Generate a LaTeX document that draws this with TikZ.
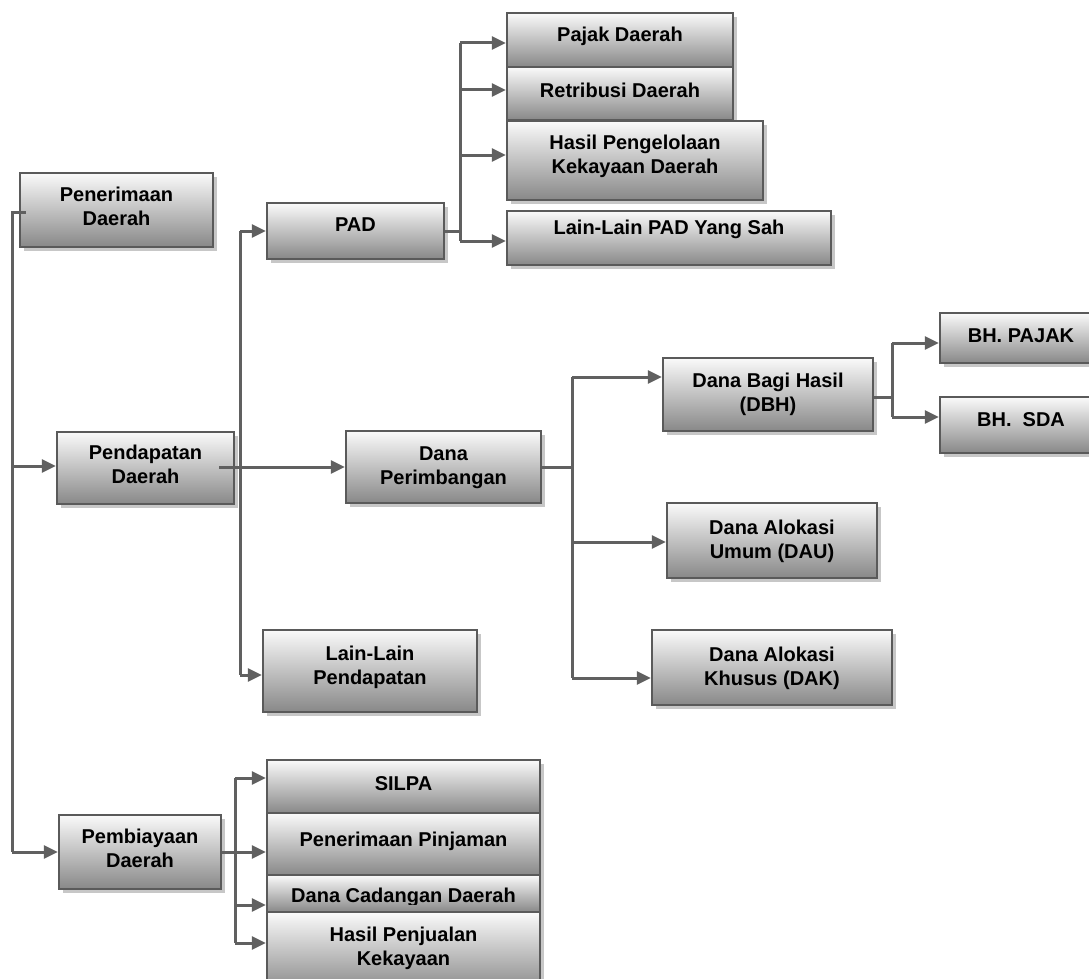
\documentclass[tikz,border=0pt]{standalone}
\usepackage{fontspec}
\setmainfont{Liberation Sans}
\usetikzlibrary{arrows.meta,shadows}
\definecolor{linegray}{HTML}{606060}
\definecolor{bordergray}{HTML}{5A5A5A}
\definecolor{topgray}{HTML}{FAFAFA}
\definecolor{botgray}{HTML}{888888}
\tikzset{
  box/.style={draw=bordergray, line width=2.4pt, top color=topgray, bottom color=botgray,
    inner sep=0pt, drop shadow={shadow xshift=4pt, shadow yshift=-4pt, fill=black!22, opacity=1}},
  txt/.style={font=\fontsize{20pt}{24.5pt}\selectfont\bfseries, align=center, inner sep=0pt},
  conn/.style={draw=linegray, line width=3pt},
  arr/.style={conn, -{Triangle[length=14pt,width=13pt]}},
}
\newcommand\bx[7]{%
  \node[box, minimum width={(#4-#2)*1pt}, minimum height={(#5-#3)*1pt}] (#1) at ({(#2+#4)/2},{(#3+#5)/2}) {};
  \node[txt, anchor=north] (#1t) at ({(#2+#4)/2},#6) {#7};
}
\begin{document}
\begin{tikzpicture}[x=1pt,y=-1pt]
\useasboundingbox (0,0) rectangle (1089,979);
\fill[white] (0,0) rectangle (1089,979);

% boxes
\bx{pen}{20}{173}{213}{247}{186.5}{Penerimaan\\Daerah}
\bx{pend}{57}{432}{234}{504}{444.5}{Pendapatan\\Daerah}
\bx{pemb}{59}{815}{221}{889}{828.5}{Pembiayaan\\Daerah}
\bx{pad}{267}{203}{444}{259}{217.5}{PAD}
\bx{danap}{346}{431}{541}{503}{446.5}{Dana\\Perimbangan}
\bx{lainp}{263}{630}{477}{712}{645.5}{Lain-Lain\\Pendapatan}
\bx{pajak}{507}{13}{733}{67}{26.5}{Pajak Daerah}
\bx{retri}{507}{67}{733}{120}{82.5}{Retribusi Daerah}
\bx{hasilp}{507}{121}{763}{200}{134.5}{Hasil Pengelolaan\\Kekayaan Daerah}
\bx{lainpad}{507}{211}{831}{265}{219.5}{Lain-Lain PAD Yang Sah}
\bx{dbh}{663}{358}{873}{431}{372.5}{Dana Bagi Hasil\\(DBH)}
\bx{dau}{667}{503}{877}{578}{519.5}{Dana Alokasi\\Umum (DAU)}
\bx{dak}{652}{630}{892}{705}{646.5}{Dana Alokasi\\Khusus (DAK)}
\bx{bhp}{940}{313}{1102}{363}{328.5}{BH. PAJAK}
\bx{bhs}{940}{397}{1102}{453}{412.5}{BH.\ \ SDA}
\bx{silpa}{267}{760}{540}{813}{776.5}{SILPA}
\bx{pinj}{267}{813}{540}{875}{831.5}{Penerimaan Pinjaman}
\node[box, minimum width=273pt, minimum height=37pt] (cad) at (403.5,893.5) {};
\begin{scope}
  \clip (267,870) rectangle (540,904);
  \node[txt, anchor=north] (cadt) at (403.5,887.5) {Dana Cadangan Daerah};
\end{scope}
\bx{hpj}{267}{912}{540}{992}{926.5}{Hasil Penjualan\\Kekayaan}

% junction columns
\coordinate (L) at (12,0);
\coordinate (M) at (240,0);
\coordinate (P) at (460,0);
\coordinate (D) at (572,0);
\coordinate (B) at (892,0);
\coordinate (Q) at (235,0);

% arrow end points
\coordinate (pendA) at ([yshift=2pt]pend.west);
\coordinate (lpA) at ([yshift=-4pt]lainp.west);
\coordinate (pjA) at ([yshift=-3pt]pajak.west);
\coordinate (reA) at ([yshift=3.5pt]retri.west);
\coordinate (hpA) at ([yshift=5.5pt]hasilp.west);
\coordinate (lsA) at ([yshift=-3pt]lainpad.west);
\coordinate (dbhA) at ([yshift=17.5pt]dbh.west);
\coordinate (dauA) at ([yshift=-1.5pt]dau.west);
\coordinate (dakA) at ([yshift=-10.5pt]dak.west);
\coordinate (bhpA) at ([yshift=-5pt]bhp.west);
\coordinate (bhsA) at ([yshift=8pt]bhs.west);
\coordinate (silA) at ([yshift=8.5pt]silpa.west);
\coordinate (pinA) at ([yshift=-8pt]pinj.west);
\coordinate (cadA) at ([yshift=-11.5pt]cad.west);
\coordinate (hpjA) at ([yshift=9pt]hpj.west);
\coordinate (pe) at ([xshift=-16pt,yshift=1pt]pend.east);
\coordinate (dbhE) at ([yshift=-2.5pt]dbh.east);

% left trunk
\draw[conn] ([xshift=7pt,yshift=-2pt]pen.west) -| (L |- pemb.west);
\draw[arr] (L |- pendA) -- (pendA);
\draw[arr] (L |- pemb.west) -- (pemb.west);

% pendapatan
\draw[arr] (pe) -- (pe -| danap.west);
\draw[conn] (M |- pad.west) -- (M |- lpA);
\draw[arr] (M |- pad.west) -- (pad.west);
\draw[arr] (M |- lpA) -- (lpA);

% PAD
\draw[conn] (pad.east) -- (P |- pad.east);
\draw[conn] (P |- pjA) -- (P |- lsA);
\draw[arr] (P |- pjA) -- (pjA);
\draw[arr] (P |- reA) -- (reA);
\draw[arr] (P |- hpA) -- (hpA);
\draw[arr] (P |- lsA) -- (lsA);

% Dana Perimbangan
\draw[conn] (danap.east) -- (D |- danap.east);
\draw[conn] (D |- dbhA) -- (D |- dakA);
\draw[arr] (D |- dbhA) -- (dbhA);
\draw[arr] (D |- dauA) -- (dauA);
\draw[arr] (D |- dakA) -- (dakA);

% DBH
\draw[conn] (dbhE) -- (B |- dbhE);
\draw[conn] (B |- bhpA) -- (B |- bhsA);
\draw[arr] (B |- bhpA) -- (bhpA);
\draw[arr] (B |- bhsA) -- (bhsA);

% Pembiayaan
\draw[conn] (pemb.east) -- (Q |- pemb.east);
\draw[conn] (Q |- silA) -- (Q |- hpjA);
\draw[arr] (Q |- silA) -- (silA);
\draw[arr] (Q |- pinA) -- (pinA);
\draw[arr] (Q |- cadA) -- (cadA);
\draw[arr] (Q |- hpjA) -- (hpjA);
\end{tikzpicture}
\end{document}
